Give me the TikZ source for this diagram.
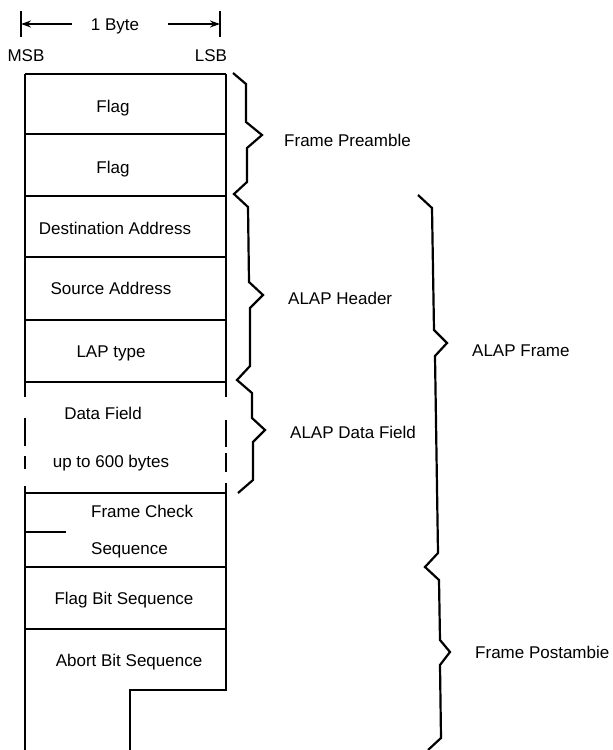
\documentclass[tikz,border=0pt]{standalone}
\usepackage{fontspec}
\setmainfont{Liberation Sans}
\usetikzlibrary{arrows.meta}
\begin{document}
\begin{tikzpicture}[x=1pt,y=-1pt,
  rule/.style={line width=1.8pt, line cap=butt},
  heavyrule/.style={line width=2.6pt, line cap=butt},
  brace/.style={line width=2.2pt, line join=miter},
  txt/.style={font=\fontsize{17}{20}\selectfont, inner sep=0pt},
  celltxt/.style={txt, anchor=base},
  sidetxt/.style={txt, anchor=base west},
  span/.style={line width=1.5pt, -{Stealth[length=10pt,width=7pt]}}]
\useasboundingbox (0,0) rectangle (613,750);

% ---- byte width marker ----
\coordinate (tl) at (21,24);
\coordinate (tr) at (220,24);
\draw[line width=1.6pt] (21,11) -- (21,37);
\draw[line width=1.6pt] (220,11) -- (220,37);
\node[celltxt] (byte) at (115,30) {1 Byte};
\coordinate (al) at (72,24);
\coordinate (ar) at (168,24);
\draw[span] (al) -- (tl);
\draw[span] (ar) -- (tr);
\node[celltxt] (msb) at (26,61) {MSB};
\node[celltxt] (lsb) at (211,61) {LSB};

% ---- frame fields ----
% outer walls
\draw[rule] (25,74) -- (25,382);
\draw[rule] (226,74) -- (226,382);
\draw[rule] (25,493) -- (25,750);
\draw[rule] (226,493) -- (226,690) -- (130,690) -- (130,750);
% separators
\draw[rule] (25,74) -- (226,74);
\draw[rule] (25,134) -- (226,134);
\draw[rule] (25,196) -- (226,196);
\draw[rule] (25,257) -- (226,257);
\draw[heavyrule] (25,320) -- (226,320);
\draw[rule] (25,382) -- (226,382);
\draw[rule] (25,493) -- (226,493);
\draw[heavyrule] (25,567) -- (226,567);
\draw[rule] (25,629) -- (226,629);
% broken walls of the variable-length data field
\foreach \a/\b in {382/397, 418/446, 456/469, 486/493}
  \draw[rule] (25,\a) -- (25,\b);
\foreach \a/\b in {382/397, 420/447, 453/472, 483/493}
  \draw[rule] (226,\a) -- (226,\b);
% short tick inside the check sequence field
\draw[rule] (25,532) -- (66,532);

\node[celltxt] (flag1) at (113,112) {Flag};
\node[celltxt] (flag2) at (113,173) {Flag};
\node[celltxt] (dst)   at (115,234) {Destination Address};
\node[celltxt] (src)   at (111,294) {Source Address};
\node[celltxt] (lap)   at (111,357) {LAP type};
\node[celltxt] (data)  at (103,419) {Data Field};
\node[celltxt] (dlen)  at (111,467) {up to 600 bytes};
\node[txt, anchor=base west] (fcs1) at (91,517) {Frame Check};
\node[txt, anchor=base west] (fcs2) at (91,554) {Sequence};
\node[celltxt] (fbs)   at (124,604) {Flag Bit Sequence};
\node[celltxt] (abs)   at (129,666) {Abort Bit Sequence};

% ---- braces ----
\draw[brace] (233,73) -- (246,84) -- (246,122) -- (262,135) -- (247,148)
  -- (247,182) -- (234,194) -- (248,207) -- (249,282) -- (263,295)
  -- (250,308) -- (250,366) -- (237,380) -- (252,393) -- (252,418)
  -- (265,430) -- (253,442) -- (253,480) -- (238,493);
\draw[brace] (418,195) -- (432,208) -- (434,330) -- (447,343) -- (435,356)
  -- (438,553) -- (425,567) -- (439,580) -- (440,640) -- (450,652)
  -- (440,665) -- (441,738) -- (428,750);

\node[sidetxt] (pre)  at (284,146) {Frame Preamble};
\node[sidetxt] (hdr)  at (288,304) {ALAP Header};
\node[sidetxt] (dfl)  at (290,438) {ALAP Data Field};
\node[sidetxt] (frm)  at (472,356) {ALAP Frame};
\node[sidetxt] (post) at (475,658) {Frame Postambie};
\end{tikzpicture}
\end{document}
